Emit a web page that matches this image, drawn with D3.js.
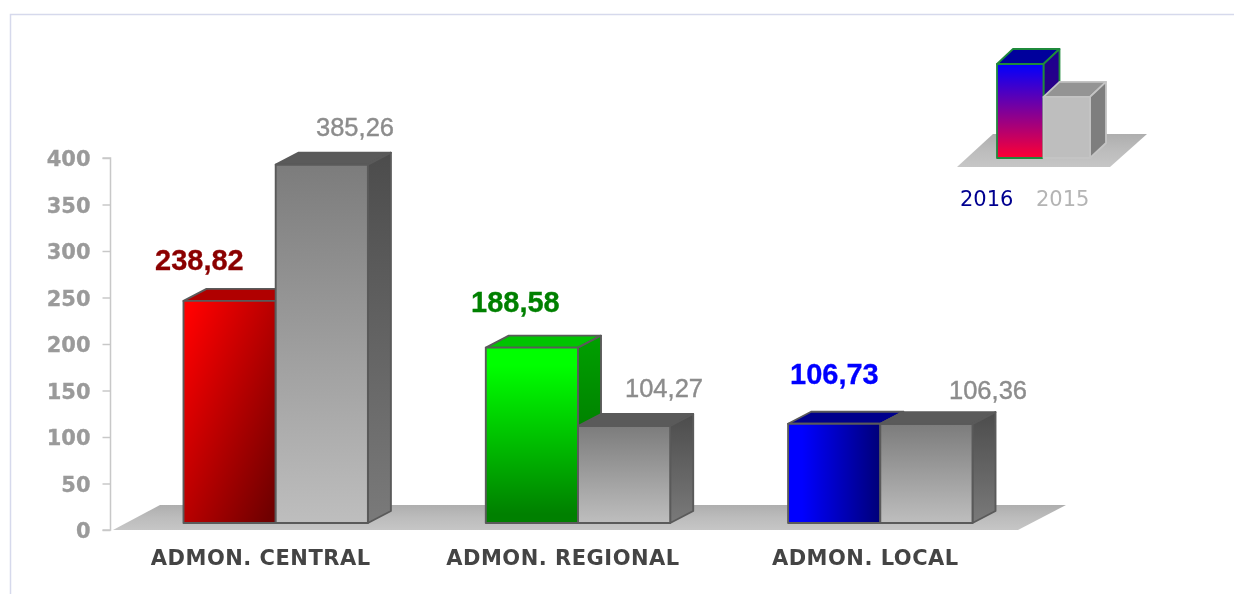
<!DOCTYPE html>
<html><head><meta charset="utf-8">
<script src="https://cdn.jsdelivr.net/npm/d3@7"></script>
<style>
html,body{margin:0;padding:0;background:#fff;overflow:hidden}
svg{display:block;filter:blur(0.5px)}
</style></head><body>
<svg id="c" width="1234" height="594"></svg>
<script>
const categories = ["ADMON. CENTRAL", "ADMON. REGIONAL", "ADMON. LOCAL"];
const series2016 = [238.82, 188.58, 106.73];
const series2015 = [385.26, 104.27, 106.36];
const labels2016 = ["238,82", "188,58", "106,73"];
const labels2015 = ["385,26", "104,27", "106,36"];
const tickValues = [0, 50, 100, 150, 200, 250, 300, 350, 400];
const legendNames = ["2016", "2015"];
const legendLevels = [100, 65];

const label2016Anchor = [[155, 270], [471, 312], [790, 384]];
const label2015Anchor = [[316, 136], [625, 397], [949, 399]];

const svg = d3.select("#c");
const defs = svg.append("defs");
function grad(id, x1, y1, x2, y2, stops) {
  const g = defs.append("linearGradient").attr("id", id)
    .attr("x1", x1).attr("y1", y1).attr("x2", x2).attr("y2", y2);
  stops.forEach((c, i) => g.append("stop").attr("offset", i / (stops.length - 1)).attr("stop-color", c));
  return `url(#${id})`;
}
const frontFill = [
  grad("fRed", 0.05, 0.05, 0.95, 0.95, ["#ff0000", "#b80000", "#700000"]),
  grad("fGreen", 0, 0.1, 0, 0.95, ["#00ff00", "#008000"]),
  grad("fBlue", 0.15, 0, 1, 0, ["#0000ff", "#000078"])
];
const topFill = ["#b00000", "#00c400", "#00008c"];
const sideFill = ["#800000", grad("sGreen", 0, 0, 0, 1, ["#00a000", "#006400"]), "#000070"];
const greyFront = grad("fGrey", 0, 0, 0, 1, ["#7c7c7c", "#bebebe"]);
const greySide = grad("sGrey", 0, 0, 0, 1, ["#4c4c4c", "#7a7a7a"]);
const floorFill = grad("floor", 0, 0, 0, 1, ["#aeaeae", "#bcbcbc", "#c6c6c6"]);
const legFront = grad("lFront", 0, 0, 0, 1, ["#0000ff", "#ff0033"]);
const legSide = grad("lSide", 0, 0, 0, 1, ["#1c0090", "#40007c"]);

// frame
svg.append("path").attr("d", d3.line()([[10.5, 594], [10.5, 14.5], [1234, 14.5]]))
  .attr("fill", "none").attr("stroke", "#d6d9ec").attr("stroke-width", 1.5);

// scales
const y = d3.scaleLinear().domain([0, 400]).range([530, 158]);
const x0 = d3.scaleBand().domain(categories).range([183.5, 972.5]).paddingInner(0.39).paddingOuter(0);
const x1 = d3.scaleBand().domain([0, 1]).range([0, x0.bandwidth()]);
const depthX = 23, depthY = 12, baseShift = 7;
const line = d3.line();
const poly = pts => line(pts) + "Z";

// floor
svg.append("path")
  .attr("d", poly([[113, y(0)], [1018, y(0)], [1066, 505], [160, 505]]))
  .attr("fill", floorFill);

// y axis
const axis = d3.axisLeft(y).tickValues(tickValues).tickSize(8).tickPadding(12);
const gy = svg.append("g").attr("transform", "translate(110.5,0)").call(axis);
gy.selectAll("path,line").attr("stroke", "#c8c8c8").attr("stroke-width", 1.5);
gy.select(".domain").attr("d", `M-8,${y(400)}H0V${y(0)}H-8`).attr("fill", "none");
gy.selectAll("text").attr("font-family", "'DejaVu Sans'").attr("font-weight", "bold")
  .attr("font-size", 21).attr("fill", "#9a9a9a").attr("dy", "0.36em")
  .attr("stroke", "#9a9a9a").attr("stroke-width", 0.3);

function bar(g, xL, w, val, front, top, side) {
  const yB = y(0) - baseShift, yT = y(val) - baseShift, xR = xL + w;
  const st = { stroke: "#5a5a5a", "stroke-width": 1.9, "stroke-linejoin": "round" };
  const add = (d, fill, s) => {
    const p = g.append("path").attr("d", d).attr("fill", fill);
    Object.entries(s).forEach(([k, v]) => p.attr(k, v));
  };
  add(poly([[xL, yT], [xL + depthX, yT - depthY], [xR + depthX, yT - depthY], [xR, yT]]), top, st);
  add(poly([[xR, yT], [xR + depthX, yT - depthY], [xR + depthX, yB - depthY], [xR, yB]]), side, st);
  add(poly([[xL, yT], [xR, yT], [xR, yB], [xL, yB]]), front, st);
}

categories.forEach((c, i) => {
  const g = svg.append("g");
  const xa = x0(c);
  bar(g, xa + x1(0), x1.bandwidth(), series2016[i], frontFill[i], topFill[i], sideFill[i]);
  bar(g, xa + x1(1), x1.bandwidth(), series2015[i], greyFront, "#5a5a5a", greySide);
  const col = ["#8b0000", "#008000", "#0000ff"][i];
  svg.append("text").attr("x", label2016Anchor[i][0]).attr("y", label2016Anchor[i][1])
    .attr("font-family", "'Liberation Sans'").attr("font-weight", "bold").attr("font-size", 29)
    .attr("fill", col).attr("stroke", col).attr("stroke-width", 0.3).text(labels2016[i]);
  svg.append("text").attr("x", label2015Anchor[i][0]).attr("y", label2015Anchor[i][1])
    .attr("font-family", "'Liberation Sans'").attr("font-size", 25.5)
    .attr("fill", "#8c8c8c").attr("stroke", "#8c8c8c").attr("stroke-width", 0.4).text(labels2015[i]);
  svg.append("text").attr("x", xa + x0.bandwidth() / 2 - 15).attr("y", 565)
    .attr("text-anchor", "middle").attr("font-family", "'DejaVu Sans'").attr("font-weight", "bold")
    .attr("font-size", 21).attr("letter-spacing", 0.5).attr("fill", "#444").text(c);
});

// legend
const ly = d3.scaleLinear().domain([0, 100]).range([158, 64]);
const lx = d3.scaleBand().domain(legendNames).range([997, 1090]);
const lb = svg.append("g");
lb.append("path").attr("d", poly([[957, 167], [1110, 167], [1147, 134], [993, 134]])).attr("fill", floorFill);
const ldx = 16, ldy = 15;
{
  const a = lx("2016"), w = lx.bandwidth(), t = ly(legendLevels[0]), b = ly(0);
  const st = p => p.attr("stroke", "#1f8a3c").attr("stroke-width", 1.8).attr("stroke-linejoin", "round");
  st(lb.append("path").attr("d", poly([[a, t], [a + ldx, t - ldy], [a + w + ldx, t - ldy], [a + w, t]])).attr("fill", "#00009c"));
  st(lb.append("path").attr("d", poly([[a + w, t], [a + w + ldx, t - ldy], [a + w + ldx, b - ldy], [a + w, b]])).attr("fill", legSide));
  st(lb.append("path").attr("d", poly([[a, t], [a + w, t], [a + w, b], [a, b]])).attr("fill", legFront));
}
{
  const a = lx("2015"), w = lx.bandwidth(), t = ly(legendLevels[1]), b = ly(0);
  const st = p => p.attr("stroke", "#c4c4c4").attr("stroke-width", 1.8).attr("stroke-linejoin", "round");
  st(lb.append("path").attr("d", poly([[a, t], [a + ldx, t - ldy], [a + w + ldx, t - ldy], [a + w, t]])).attr("fill", "#949494"));
  st(lb.append("path").attr("d", poly([[a + w, t], [a + w + ldx, t - ldy], [a + w + ldx, b - ldy], [a + w, b]])).attr("fill", "#7e7e7e"));
  st(lb.append("path").attr("d", poly([[a, t], [a + w, t], [a + w, b], [a, b]])).attr("fill", "#bebebe"));
}
const legendX = [960, 1036], legendCol = ["#000090", "#b4b4b4"];
legendNames.forEach((n, i) => svg.append("text").attr("x", legendX[i]).attr("y", 206)
  .attr("font-family", "'DejaVu Sans'").attr("font-size", 21).attr("fill", legendCol[i]).text(n));
</script>
</body></html>
